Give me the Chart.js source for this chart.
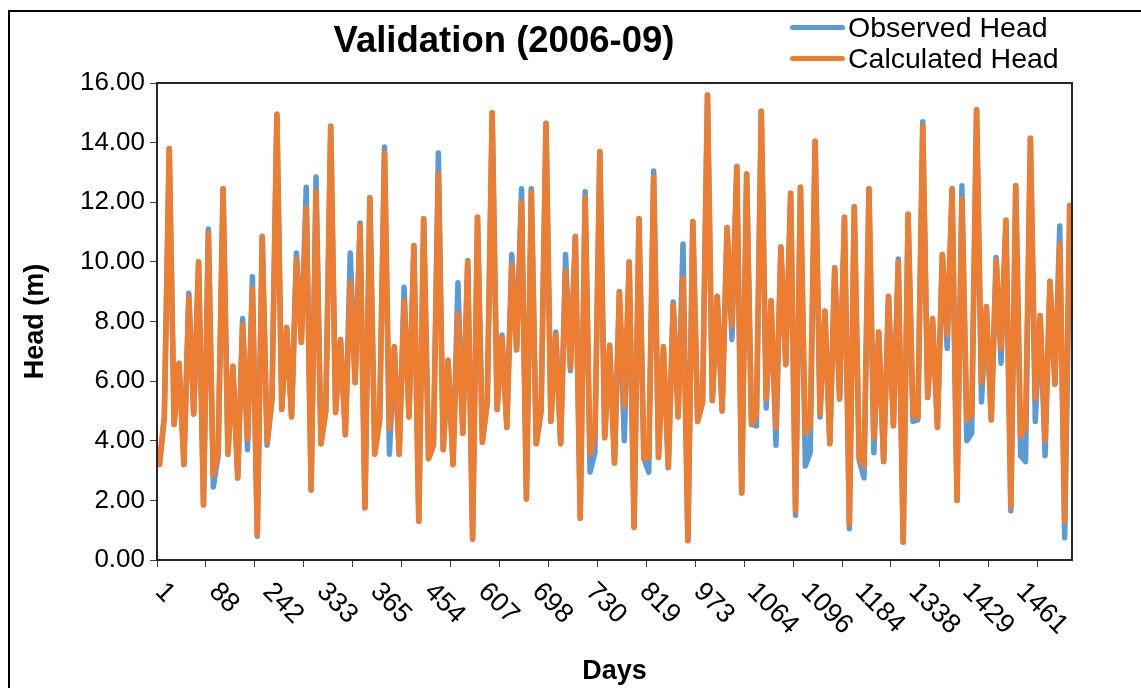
<!DOCTYPE html>
<html>
<head>
<meta charset="utf-8">
<script src="https://cdn.jsdelivr.net/npm/chart.js@4/dist/chart.umd.min.js"></script>
<style>
  body { margin: 0; background: #fff; }
  #wrap { position: relative; width: 1141px; height: 688px; overflow: hidden; font-family: "Liberation Sans", Arial, sans-serif; }
  #outer { position: absolute; left: 8px; top: 10px; width: 1200px; height: 760px; border-left: 2px solid #000; border-top: 2px solid #000; }
  #title { position: absolute; left: 0; top: 19px; width: 1008px; text-align: center; font-weight: bold; font-size: 36.5px; line-height: 42px; color: #000; }
  .leg { position: absolute; left: 790px; height: 32px; font-size: 28.5px; line-height: 32px; color: #000; white-space: nowrap; }
  .leg span { display: inline-block; width: 55px; height: 5px; border-radius: 3px; vertical-align: middle; margin-right: 3px; position: relative; top: -2px; }
  canvas { position: absolute; left: 0; top: 0; }
</style>
</head>
<body>
<div id="wrap">
  <div id="outer"></div>
  <canvas id="headChart" width="1141" height="688"></canvas>
  <div id="title">Validation (2006-09)</div>
  <div class="leg" style="top:11px"><span style="background:#5B9BD5"></span>Observed Head</div>
  <div class="leg" style="top:42px"><span style="background:#ED7D31"></span>Calculated Head</div>
</div>
<script>
// day labels shown on the x axis (every 11th sample)
const dayTicks = ['1', '88', '242', '333', '365', '454', '607', '698', '730', '819', '973', '1064', '1096', '1184', '1338', '1429', '1461'];
const labelEvery = 11;
const tickEvery = 10;

// calculated head (m)
const calcHead = [
  3.2, 4.8, 13.8, 4.55, 6.6, 3.2, 8.8, 4.9, 10.0, 1.85,
  10.95, 2.85, 3.6, 12.45, 3.55, 6.5, 2.75, 7.9, 4.05, 9.1,
  0.85, 10.85, 3.95, 5.4, 14.95, 5.05, 7.8, 4.8, 10.1, 7.3,
  11.8, 2.35, 12.35, 3.9, 5.0, 14.55, 4.95, 7.4, 4.2, 9.3,
  5.95, 11.2, 1.75, 12.15, 3.55, 4.7, 13.65, 4.4, 7.15, 3.55,
  8.7, 4.8, 10.55, 1.3, 11.45, 3.4, 3.85, 12.95, 3.7, 6.7,
  3.2, 8.25, 4.25, 10.0, 0.7, 11.5, 3.95, 5.3, 15.0, 5.05,
  7.45, 4.45, 9.9, 7.05, 12.0, 2.05, 12.35, 3.9, 5.0, 14.65,
  4.65, 7.55, 3.9, 9.7, 6.45, 10.85, 1.4, 12.15, 3.55, 4.2,
  13.7, 4.1, 7.2, 3.25, 9.0, 5.15, 10.0, 1.1, 11.45, 3.4,
  3.45, 12.85, 3.45, 7.15, 3.1, 8.55, 4.8, 9.45, 0.65, 11.35,
  4.65, 5.3, 15.6, 5.35, 8.85, 5.0, 11.15, 7.85, 13.2, 2.25,
  12.95, 4.55, 4.9, 15.05, 5.4, 8.7, 4.45, 10.5, 6.55, 12.3,
  1.65, 12.5, 4.25, 4.5, 14.05, 4.9, 8.35, 3.9, 9.8, 5.4,
  11.5, 1.2, 11.85, 3.45, 3.15, 12.45, 4.1, 7.65, 3.3, 8.85,
  4.5, 10.0, 0.6, 11.6, 4.85, 4.8, 14.55, 5.45, 8.1, 4.45,
  10.25, 7.55, 12.45, 2.0, 12.1, 4.7, 4.9, 15.1, 5.95, 8.5,
  4.7, 10.05, 7.1, 11.4, 1.8, 12.55, 4.15, 4.5, 14.15, 5.4,
  8.2, 4.0, 9.35, 5.9, 10.6, 1.3, 11.9
];

// observed head (m)
const obsHead = [
  3.2, 4.8, 13.8, 4.55, 6.6, 3.2, 8.95, 4.9, 10.0, 1.85,
  11.1, 2.45, 3.5, 12.45, 3.55, 6.5, 2.75, 8.1, 3.7, 9.5,
  0.8, 10.85, 3.85, 5.4, 14.95, 5.05, 7.8, 4.8, 10.3, 7.3,
  12.5, 2.35, 12.85, 3.9, 5.0, 14.55, 4.95, 7.4, 4.2, 10.3,
  5.95, 11.3, 1.75, 12.15, 3.55, 4.7, 13.85, 3.55, 7.15, 3.55,
  9.15, 4.8, 10.55, 1.3, 11.45, 3.4, 3.85, 13.65, 3.7, 6.7,
  3.2, 9.3, 4.25, 10.05, 0.7, 11.5, 3.95, 5.3, 15.0, 5.05,
  7.55, 4.45, 10.25, 7.05, 12.45, 2.05, 12.45, 3.9, 5.0, 14.65,
  4.65, 7.65, 3.9, 10.25, 6.35, 10.85, 1.4, 12.35, 2.95, 3.6,
  13.7, 4.1, 7.2, 3.25, 9.0, 4.0, 10.0, 1.1, 11.45, 3.4,
  2.95, 13.05, 3.45, 7.15, 3.1, 8.65, 4.8, 10.6, 0.65, 11.35,
  4.65, 5.3, 15.6, 5.35, 8.85, 5.0, 11.15, 7.4, 13.2, 2.25,
  12.95, 4.55, 4.5, 15.05, 5.1, 8.7, 3.85, 10.5, 6.55, 12.3,
  1.5, 12.5, 3.15, 3.6, 14.05, 4.8, 8.35, 3.9, 9.8, 5.4,
  11.5, 1.05, 11.85, 3.35, 2.75, 12.45, 3.6, 7.65, 3.3, 8.85,
  4.5, 10.1, 0.6, 11.6, 4.65, 4.7, 14.7, 5.45, 8.1, 4.45,
  10.25, 7.1, 12.45, 2.0, 12.55, 4.0, 4.25, 15.1, 5.3, 8.5,
  4.7, 10.15, 6.6, 11.4, 1.65, 12.55, 3.5, 3.3, 14.15, 4.65,
  8.2, 3.5, 9.35, 5.9, 11.2, 0.75, 10.4
];

const labels = calcHead.map((v, i) => (i % labelEvery === 0 ? (dayTicks[i / labelEvery] || '') : ''));

// border around the plot area
const plotFrame = {
    id: 'plotFrame',
    afterDraw(chart) {
        const { ctx, chartArea } = chart;
        ctx.save();
        ctx.strokeStyle = '#262626';
        ctx.lineWidth = 2;
        ctx.strokeRect(chartArea.left, chartArea.top, chartArea.right - chartArea.left, chartArea.bottom - chartArea.top);
        ctx.restore();
    }
};

const ctx = document.getElementById('headChart').getContext('2d');

new Chart(ctx, {
    type: 'line',
    data: {
        labels: labels,
        datasets: [{
            label: 'Observed Head',
            data: obsHead,
            borderColor: '#5B9BD5',
            borderWidth: 5.5,
            borderJoinStyle: 'round',
            borderCapStyle: 'round',
            pointRadius: 0,
            tension: 0,
            order: 1
        }, {
            label: 'Calculated Head',
            data: calcHead,
            borderColor: '#ED7D31',
            borderWidth: 5.5,
            borderJoinStyle: 'round',
            borderCapStyle: 'round',
            pointRadius: 0,
            tension: 0,
            order: 0
        }]
    },
    options: {
        responsive: false,
        devicePixelRatio: 1,
        animation: false,
        layout: {
            padding: { left: 19, top: 83, right: 69, bottom: 0 }
        },
        plugins: {
            legend: { display: false },
            title: { display: false },
            tooltip: { enabled: false }
        },
        scales: {
            x: {
                offset: true,
                grid: {
                    offset: true,
                    drawOnChartArea: false,
                    drawTicks: true,
                    tickLength: 7,
                    tickColor: (c) => (c.index % tickEvery === 0 ? '#404040' : 'rgba(0,0,0,0)')
                },
                border: { display: true, color: '#262626', width: 2 },
                ticks: {
                    autoSkip: false,
                    minRotation: -45,
                    maxRotation: -45,
                    padding: 9,
                    color: '#000',
                    font: { family: '"Liberation Sans", Arial, sans-serif', size: 27 }
                },
                title: {
                    display: true,
                    text: 'Days',
                    color: '#000',
                    padding: 0,
                    font: { family: '"Liberation Sans", Arial, sans-serif', size: 27, weight: 'bold' }
                },
                afterFit(scale) {
                    scale.height = 128;
                    scale._getXAxisLabelAlignment = () => 'left';
                }
            },
            y: {
                min: 0,
                max: 16,
                grid: {
                    drawOnChartArea: false,
                    drawTicks: true,
                    tickLength: 7,
                    tickColor: '#404040'
                },
                border: { display: true, color: '#262626', width: 2 },
                ticks: {
                    stepSize: 2,
                    padding: 5,
                    color: '#000',
                    font: { family: '"Liberation Sans", Arial, sans-serif', size: 26 },
                    callback: (v) => v.toFixed(2)
                },
                title: {
                    display: true,
                    text: 'Head (m)',
                    color: '#000',
                    padding: 0,
                    font: { family: '"Liberation Sans", Arial, sans-serif', size: 27, weight: 'bold' }
                },
                afterFit(scale) {
                    scale.width = 138;
                }
            }
        }
    },
    plugins: [plotFrame]
});
</script>
</body>
</html>
